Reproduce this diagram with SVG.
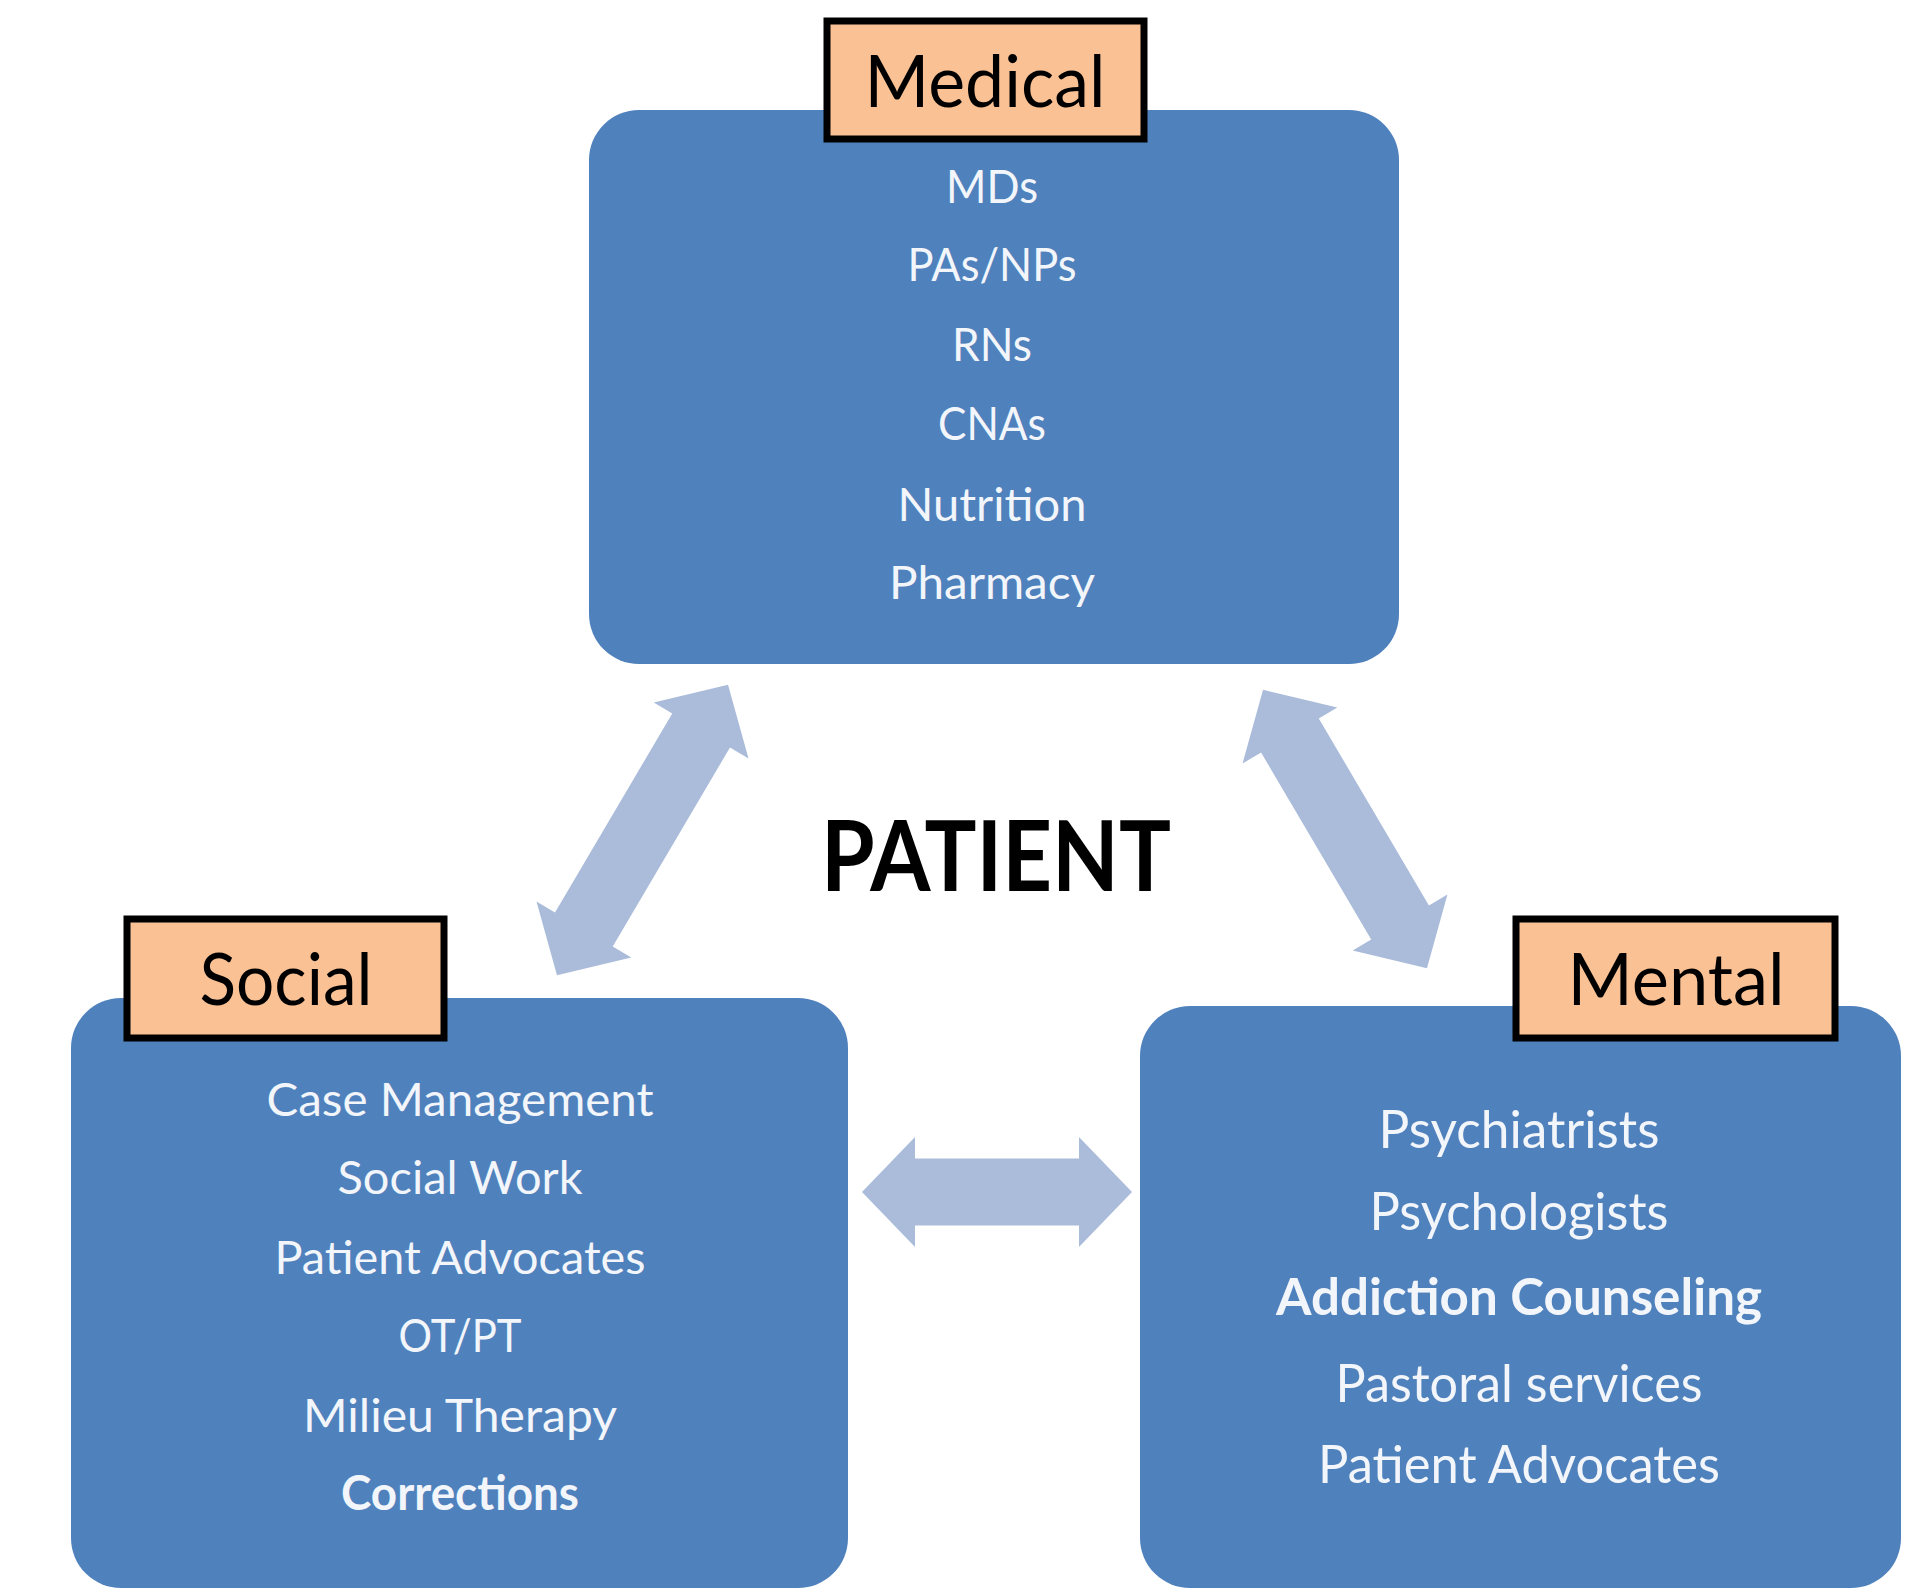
<svg xmlns="http://www.w3.org/2000/svg" width="1908" height="1590" viewBox="0 0 1908 1590">
<defs>
<style>
.box{fill:#4F81BD;}
.lbl{fill:#F9C194;stroke:#000;stroke-width:7;}
.lt{font-family:Lato,"Liberation Sans",sans-serif;font-size:72px;fill:#000;text-anchor:middle;}
.it{font-family:Lato,"Liberation Sans",sans-serif;font-size:47px;fill:#F2F5FA;text-anchor:middle;}
.itm{font-family:Lato,"Liberation Sans",sans-serif;font-size:52px;fill:#F2F5FA;text-anchor:middle;}
.b{font-weight:bold;}
.arr{fill:#AABCDA;}
.pt{font-family:Lato,"Liberation Sans",sans-serif;font-size:98px;font-weight:bold;fill:#000;text-anchor:middle;}
</style>
</defs>
<rect width="1908" height="1590" fill="#FFFFFF"/>
<g id="connectors">
<path class="arr" transform="translate(642.5,830) rotate(120.5)" d="M -168.5 0 L -115.5 -55 L -115.5 -33.5 L 115.5 -33.5 L 115.5 -55 L 168.5 0 L 115.5 55 L 115.5 33.5 L -115.5 33.5 L -115.5 55 Z"/>
<path class="arr" transform="translate(1345,829) rotate(59.5)" d="M -161.5 0 L -108.5 -55 L -108.5 -33.5 L 108.5 -33.5 L 108.5 -55 L 161.5 0 L 108.5 55 L 108.5 33.5 L -108.5 33.5 L -108.5 55 Z"/>
<path class="arr" d="M 862 1192 L 915 1137 L 915 1158.5 L 1079 1158.5 L 1079 1137 L 1132 1192 L 1079 1247 L 1079 1225.5 L 915 1225.5 L 915 1247 Z"/>
</g>
<g id="patient">
<text class="pt" x="996" y="891" textLength="350" lengthAdjust="spacingAndGlyphs">PATIENT</text>
</g>
<g id="medical">
<rect class="box" x="589" y="110" width="810" height="554" rx="50"/>
<rect class="lbl" x="827" y="21" width="317" height="118"/>
<text class="lt" x="985" y="107" textLength="241" lengthAdjust="spacingAndGlyphs">Medical</text>
<text class="it" x="992" y="203" textLength="92" lengthAdjust="spacingAndGlyphs">MDs</text>
<text class="it" x="992" y="281" textLength="169" lengthAdjust="spacingAndGlyphs">PAs/NPs</text>
<text class="it" x="992" y="361" textLength="80" lengthAdjust="spacingAndGlyphs">RNs</text>
<text class="it" x="992" y="440" textLength="108" lengthAdjust="spacingAndGlyphs">CNAs</text>
<text class="it" x="992" y="521" textLength="189" lengthAdjust="spacingAndGlyphs">Nutrition</text>
<text class="it" x="992" y="599" textLength="206" lengthAdjust="spacingAndGlyphs">Pharmacy</text>
</g>
<g id="social">
<rect class="box" x="71" y="998" width="777" height="590" rx="50"/>
<rect class="lbl" x="127" y="919" width="317" height="119"/>
<text class="lt" x="286" y="1005" textLength="173" lengthAdjust="spacingAndGlyphs">Social</text>
<text class="it" x="460" y="1116" textLength="387" lengthAdjust="spacingAndGlyphs">Case Management</text>
<text class="it" x="460" y="1194" textLength="245" lengthAdjust="spacingAndGlyphs">Social Work</text>
<text class="it" x="460" y="1274" textLength="371" lengthAdjust="spacingAndGlyphs">Patient Advocates</text>
<text class="it" x="460" y="1352" textLength="123" lengthAdjust="spacingAndGlyphs">OT/PT</text>
<text class="it" x="460" y="1432" textLength="314" lengthAdjust="spacingAndGlyphs">Milieu Therapy</text>
<text class="it b" x="460" y="1510" textLength="238" lengthAdjust="spacingAndGlyphs">Corrections</text>
</g>
<g id="mental">
<rect class="box" x="1140" y="1006" width="761" height="582" rx="50"/>
<rect class="lbl" x="1516" y="919" width="319" height="119"/>
<text class="lt" x="1676" y="1005" textLength="217" lengthAdjust="spacingAndGlyphs">Mental</text>
<text class="itm" x="1519" y="1148" textLength="281" lengthAdjust="spacingAndGlyphs">Psychiatrists</text>
<text class="itm" x="1519" y="1230" textLength="299" lengthAdjust="spacingAndGlyphs">Psychologists</text>
<text class="itm b" x="1519" y="1315" textLength="486" lengthAdjust="spacingAndGlyphs">Addiction Counseling</text>
<text class="itm" x="1519" y="1402" textLength="367" lengthAdjust="spacingAndGlyphs">Pastoral services</text>
<text class="itm" x="1519" y="1483" textLength="402" lengthAdjust="spacingAndGlyphs">Patient Advocates</text>
</g>
</svg>
